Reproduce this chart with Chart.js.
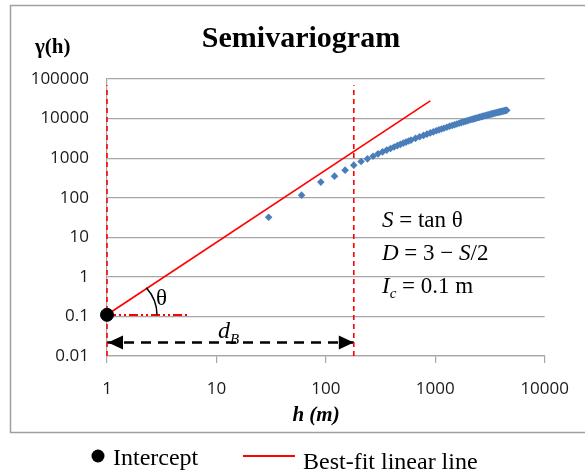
<!DOCTYPE html>
<html>
<head>
<meta charset="utf-8">
<script src="https://cdn.jsdelivr.net/npm/chart.js@4.4.0/dist/chart.umd.min.js"></script>
<style>
html, body { margin: 0; padding: 0; background: #fff; }
#wrap { position: relative; width: 585px; height: 476px; overflow: hidden; }
canvas { display: block; }
</style>
</head>
<body>
<div id="wrap"><canvas id="chart" width="585" height="476"></canvas></div>
<script>
// Lag distance h (m) and semivariance gamma(h)
const lagH = [30, 60, 90, 120, 150, 180, 210, 240, 270, 300, 330, 360, 390, 420, 450, 480, 510, 540, 570, 600,
    660, 720, 780, 840, 900, 960, 1020, 1080, 1140, 1200, 1275, 1350, 1425, 1500, 1575, 1650, 1725, 1800,
    1875, 1950, 2025, 2100, 2175, 2250, 2325, 2400, 2475, 2550, 2625, 2700, 2775, 2850, 2925, 3000,
    3075, 3150, 3225, 3300, 3375, 3450, 3525, 3600, 3675, 3750, 3825, 3900, 3975, 4050, 4125, 4200,
    4275, 4350, 4425, 4500];
const gammaH = [32, 116, 248, 351, 497, 665, 820, 960, 1120, 1283, 1443, 1599, 1757, 1914, 2073, 2230, 2390, 2543, 2700, 2851,
    3162, 3459, 3758, 4051, 4341, 4624, 4915, 5182, 5458, 5718, 6056, 6380, 6697, 7010, 7317, 7618, 7914, 8196,
    8492, 8770, 9050, 9318, 9590, 9849, 10111, 10363, 10619, 10870, 11109, 11340, 11588, 11817, 12050, 12283,
    12503, 12718, 12942, 13161, 13372, 13583, 13788, 13984, 14191, 14390, 14588, 14770, 14966, 15144, 15347, 15524,
    15712, 15885, 16075, 16255];

// best-fit line end points
const fitX = [1, 900];
const fitY = [0.11, 28000];

// intercept, break distance d_B, helper lines
const interceptX = 1;
const interceptY = 0.11;
const breakX = 180;
const vLineY = [0.01, 70000];
const thetaLineX = [1, 5.7];
const thetaLineY = 0.108;
const arrowY = 0.022;

const xTicks = [1, 10, 100, 1000, 10000];
const xTickLabels = ['1', '10', '100', '1000', '10000'];
const yTicks = [0.01, 0.1, 1, 10, 100, 1000, 10000, 100000];
const yTickLabels = ['0.01', '0.1', '1', '10', '100', '1000', '10000', '100000'];

const SERIF = '"Liberation Serif", "Times New Roman", serif';
const GRID = '#a6a6a6';

function drawRuns(ctx, x, y, runs) {
    runs.forEach(r => {
        ctx.font = r.f;
        ctx.fillText(r.t, x, y + (r.dy || 0));
        x += ctx.measureText(r.t).width;
    });
}

const overlay = {
    id: 'overlay',
    beforeDraw(chart) {
        const ctx = chart.ctx;
        ctx.save();
        ctx.fillStyle = '#fff';
        ctx.fillRect(0, 0, chart.width, chart.height);
        ctx.strokeStyle = '#a0a0a0';
        ctx.lineWidth = 1.5;
        ctx.strokeRect(10.5, 5.5, 590, 427);
        ctx.restore();
    },
    afterDatasetsDraw(chart) {
        const ctx = chart.ctx;
        const x = chart.scales.x, y = chart.scales.y;
        ctx.save();

        // angle theta
        const px = x.getPixelForValue(interceptX);
        const py = y.getPixelForValue(interceptY);
        const ex = x.getPixelForValue(fitX[1]);
        const ey = y.getPixelForValue(fitY[1]);
        const ang = Math.atan2(py - ey, ex - px);
        ctx.strokeStyle = '#000';
        ctx.lineWidth = 1.5;
        ctx.beginPath();
        ctx.ellipse(px, py, 50, 44, 0, -ang - 0.08, 0);
        ctx.stroke();

        // arrow heads for d_B
        const ay = y.getPixelForValue(arrowY);
        const x0 = x.getPixelForValue(1);
        const x1 = x.getPixelForValue(breakX);
        ctx.fillStyle = '#000';
        ctx.beginPath();
        ctx.moveTo(x0 + 1, ay); ctx.lineTo(x0 + 16, ay - 7); ctx.lineTo(x0 + 16, ay + 7);
        ctx.closePath(); ctx.fill();
        ctx.beginPath();
        ctx.moveTo(x1, ay); ctx.lineTo(x1 - 15, ay - 7); ctx.lineTo(x1 - 15, ay + 7);
        ctx.closePath(); ctx.fill();

        // labels inside the plot
        ctx.fillStyle = '#000';
        ctx.textAlign = 'left';
        ctx.textBaseline = 'alphabetic';
        ctx.font = '23px ' + SERIF;
        ctx.fillText('θ', 156, 305);
        drawRuns(ctx, 218, 338, [
            { t: 'd', f: 'italic 24px ' + SERIF },
            { t: 'B', f: 'italic 15px ' + SERIF, dy: 6 }
        ]);
        drawRuns(ctx, 382, 227, [
            { t: 'S', f: 'italic 23px ' + SERIF },
            { t: ' = tan θ', f: '23px ' + SERIF }
        ]);
        drawRuns(ctx, 382, 260, [
            { t: 'D', f: 'italic 23px ' + SERIF },
            { t: ' = 3 − ', f: '23px ' + SERIF },
            { t: 'S', f: 'italic 23px ' + SERIF },
            { t: '/2', f: '23px ' + SERIF }
        ]);
        drawRuns(ctx, 382, 293, [
            { t: 'I', f: 'italic 23px ' + SERIF },
            { t: 'c', f: 'italic 15px ' + SERIF, dy: 5 },
            { t: ' = 0.1 m', f: '23px ' + SERIF }
        ]);
        ctx.restore();
    },
    afterDraw(chart) {
        const ctx = chart.ctx;
        ctx.save();
        ctx.fillStyle = '#000';
        ctx.textBaseline = 'alphabetic';

        ctx.textAlign = 'center';
        ctx.font = 'bold 30px ' + SERIF;
        ctx.fillText('Semivariogram', 301, 47);

        ctx.font = 'bold 21px ' + SERIF;
        ctx.textAlign = 'left';
        ctx.fillText('γ(h)', 35, 53);

        ctx.font = 'bold italic 21px ' + SERIF;
        ctx.textAlign = 'center';
        ctx.fillText('h (m)', 316, 421);

        // legend
        ctx.textAlign = 'left';
        ctx.beginPath();
        ctx.arc(98, 456, 6.5, 0, Math.PI * 2);
        ctx.fill();
        ctx.font = '24px ' + SERIF;
        ctx.fillText('Intercept', 113, 465);
        ctx.strokeStyle = '#ff0000';
        ctx.lineWidth = 2;
        ctx.beginPath();
        ctx.moveTo(243, 456); ctx.lineTo(295, 456);
        ctx.stroke();
        ctx.fillText('Best-fit linear line', 303, 469);
        ctx.restore();
    }
};

const ctx = document.getElementById('chart').getContext('2d');
new Chart(ctx, {
    type: 'scatter',
    data: {
        datasets: [
            {
                label: 'Intercept',
                data: [{ x: interceptX, y: interceptY }],
                pointStyle: 'circle',
                pointRadius: 6.5,
                backgroundColor: '#000',
                borderColor: '#000',
                clip: false,
                order: 0
            },
            {
                label: 'Semivariogram',
                data: lagH.map((h, i) => ({ x: h, y: gammaH[i] })),
                pointStyle: 'rectRot',
                pointRadius: 3.8,
                backgroundColor: '#4a7ebb',
                borderColor: '#4a7ebb',
                borderWidth: 0,
                order: 1
            },
            {
                label: 'Best-fit linear line',
                data: fitX.map((v, i) => ({ x: v, y: fitY[i] })),
                showLine: true,
                borderColor: '#ff0000',
                borderWidth: 1.6,
                pointRadius: 0,
                clip: false,
                order: 2
            },
            {
                label: 'origin',
                data: vLineY.map(v => ({ x: 1, y: v })),
                showLine: true,
                borderColor: '#ff0000',
                borderWidth: 1.6,
                borderDash: [5, 4],
                pointRadius: 0,
                clip: false,
                order: 3
            },
            {
                label: 'd_B limit',
                data: vLineY.map(v => ({ x: breakX, y: v })),
                showLine: true,
                borderColor: '#ff0000',
                borderWidth: 1.6,
                borderDash: [5, 4],
                pointRadius: 0,
                clip: false,
                order: 3
            },
            {
                label: 'theta base',
                data: thetaLineX.map(v => ({ x: v, y: thetaLineY })),
                showLine: true,
                borderColor: '#ff0000',
                borderWidth: 2,
                borderDash: [9, 3, 2, 3, 2, 3],
                pointRadius: 0,
                clip: false,
                order: 3
            },
            {
                label: 'd_B',
                data: [{ x: 1, y: arrowY }, { x: breakX, y: arrowY }],
                showLine: true,
                borderColor: '#000',
                borderWidth: 2.5,
                borderDash: [10, 7],
                pointRadius: 0,
                clip: false,
                order: 4
            }
        ]
    },
    options: {
        responsive: false,
        animation: false,
        devicePixelRatio: 1,
        layout: { padding: { top: 79, right: 38, left: 0, bottom: 0 } },
        plugins: {
            legend: { display: false },
            tooltip: { enabled: false },
            title: { display: false }
        },
        scales: {
            x: {
                type: 'logarithmic',
                min: 1,
                max: 10000,
                afterBuildTicks: s => { s.ticks = xTicks.map(v => ({ value: v })); },
                afterFit: s => { s.height = 120; },
                grid: { drawOnChartArea: false, drawTicks: true, tickLength: 7, color: GRID, lineWidth: 1.2 },
                border: { color: GRID, width: 1.2 },
                ticks: {
                    font: { family: '"Open Sans", sans-serif', size: 17 },
                    color: '#1a1a1a',
                    padding: 16,
                    maxRotation: 0,
                    callback: (v, i) => xTickLabels[i]
                }
            },
            y: {
                type: 'logarithmic',
                min: 0.01,
                max: 100000,
                afterBuildTicks: s => { s.ticks = yTicks.map(v => ({ value: v })); },
                afterFit: s => { s.width = 107; },
                grid: { drawTicks: false, color: GRID, lineWidth: 1.2 },
                border: { color: GRID, width: 1.2 },
                ticks: {
                    font: { family: '"Open Sans", sans-serif', size: 17 },
                    color: '#1a1a1a',
                    padding: 18,
                    callback: (v, i) => yTickLabels[i]
                }
            }
        }
    },
    plugins: [overlay]
});
</script>
</body>
</html>
